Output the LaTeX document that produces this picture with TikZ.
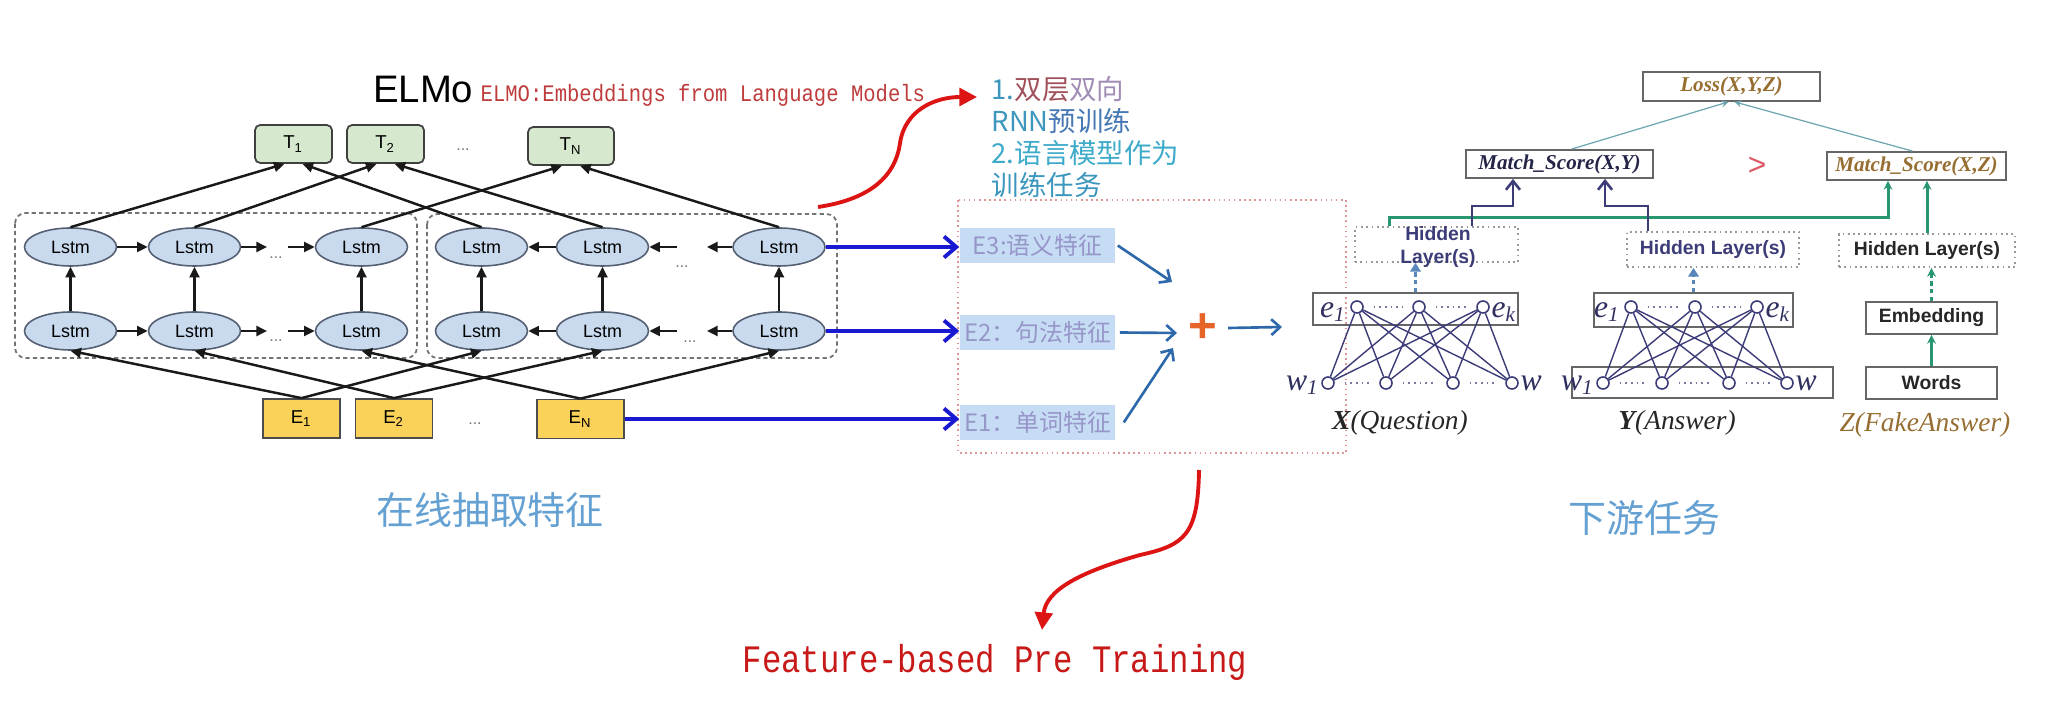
\documentclass[tikz,border=0pt]{standalone}
\usepackage{fontspec}
\newfontfamily\arialf{Liberation Sans}
\newfontfamily\serff{Liberation Serif}
\newfontfamily\monof{Liberation Mono}
\newfontfamily\cjk{Noto Sans CJK SC}
\usetikzlibrary{arrows.meta,positioning,shapes.geometric}

\definecolor{lstmblue}{RGB}{201,218,238}
\definecolor{lstmedge}{RGB}{85,95,115}
\definecolor{tgreen}{RGB}{214,232,206}
\definecolor{eyellow}{RGB}{250,210,90}
\definecolor{subred}{RGB}{190,60,60}
\definecolor{titlered}{RGB}{200,25,25}
\definecolor{curvered}{RGB}{220,20,20}
\definecolor{deepblue}{RGB}{25,25,210}
\definecolor{featblue}{RGB}{198,220,244}
\definecolor{feattext}{RGB}{150,150,200}
\definecolor{steel}{RGB}{45,105,170}
\definecolor{plusorange}{RGB}{230,100,40}
\definecolor{navy}{RGB}{60,60,120}
\definecolor{tealgreen}{RGB}{40,150,110}
\definecolor{olive}{RGB}{150,110,50}
\definecolor{lossline}{RGB}{110,165,175}
\definecolor{gtred}{RGB}{220,90,100}
\definecolor{captblue}{RGB}{100,160,210}
\definecolor{mixedge}{RGB}{220,150,150}
\definecolor{noteA}{RGB}{60,150,190}
\definecolor{noteB}{RGB}{160,80,90}
\definecolor{noteC}{RGB}{160,140,180}
\definecolor{noteD}{RGB}{70,120,180}
\definecolor{noteE}{RGB}{60,170,200}

\tikzset{
    lstm/.style={ellipse, draw=lstmedge, fill=lstmblue, line width=0.45pt,
        minimum width=0.92cm, minimum height=0.38cm, inner sep=0pt,
        font=\arialf\fontsize{5.1}{6}\selectfont},
    tbox/.style={rectangle, rounded corners=1.5pt, draw=black!75, fill=tgreen,
        line width=0.5pt, minimum width=0.77cm, minimum height=0.38cm, inner sep=0pt,
        font=\arialf\fontsize{5.3}{6}\selectfont},
    ebox/.style={rectangle, draw=black!70, fill=eyellow, line width=0.5pt,
        minimum width=0.77cm, minimum height=0.39cm, inner sep=0pt,
        font=\arialf\fontsize{5.3}{6}\selectfont},
    gapdots/.style={inner sep=0pt, text=black!55, font=\arialf\fontsize{4.5}{5}\selectfont},
    elmarrow/.style={-{Triangle[length=3pt,width=2.8pt]}, line width=0.7pt, black!90},
    dashbox/.style={draw=black!55, line width=0.5pt, dash pattern=on 1.2pt off 0.9pt,
        rounded corners=3pt},
    bluearrow/.style={-{Straight Barb[length=3.5pt,width=6pt]}, deepblue, line width=1.1pt},
    redcurve/.style={-{Triangle[length=5pt,width=5pt]}, curvered, line width=1.1pt},
    featbox/.style={rectangle, fill=featblue, minimum width=1.55cm, minimum height=0.34cm,
        inner sep=0pt, text=feattext, font=\cjk\fontsize{6.8}{8}\selectfont},
    sumarrow/.style={-{Straight Barb[length=2.5pt,width=4.5pt]}, steel, line width=0.75pt},
    plainbox/.style={rectangle, draw=black!60, line width=0.5pt, inner sep=0pt},
    hidbox/.style={rectangle, draw=black!40, densely dotted, line width=0.5pt, inner sep=0pt},
    hidtext/.style={text=navy, font=\arialf\bfseries\fontsize{5.5}{6.5}\selectfont},
    boxtext/.style={font=\arialf\bfseries\fontsize{5.5}{6.5}\selectfont, text=black!85},
    scoretext/.style={font=\serff\bfseries\itshape\fontsize{6}{7}\selectfont},
    unit/.style={circle, draw=navy, fill=white, line width=0.45pt, minimum size=0.12cm,
        inner sep=0pt},
    unitlbl/.style={inner sep=0pt, text=navy!80!black, font=\serff\itshape\fontsize{9}{10}\selectfont},
    weight/.style={navy, line width=0.4pt},
    unitdots/.style={navy!70, line width=0.7pt, dash pattern=on 0.5pt off 1.1pt,
        shorten <=2.8pt, shorten >=2.8pt},
    capt/.style={font=\serff\itshape\fontsize{7.8}{9}\selectfont, text=black!85},
    losslink/.style={-{Stealth[length=2pt,width=2pt]}, lossline, line width=0.35pt},
    greenlink/.style={-{Stealth[length=2.5pt,width=2.5pt]}, tealgreen, line width=0.85pt},
    navylink/.style={-{Straight Barb[length=2.5pt,width=4pt]}, navy, line width=0.75pt},
    bluedash/.style={-{Triangle[length=2.5pt,width=3pt]}, steel!80, line width=0.8pt,
        dash pattern=on 1.2pt off 1pt},
}

\begin{document}
\begin{tikzpicture}[x=0.01cm, y=-0.01cm]
    \useasboundingbox (0,0) rectangle (2058,722);

    % Title
    \node[anchor=base east, inner sep=0pt, font=\arialf\fontsize{10.9}{12}\selectfont] (elmo) at (474,103) {ELMo};
    \node[anchor=base west, inner sep=0pt, text=subred] (elmofull) at (480,102)
        {\scalebox{1}[1.15]{\monof\fontsize{5.85}{7}\selectfont ELMO:Embeddings from Language Models}};

    % Two dashed groups
    \draw[dashbox] (15,213) rectangle (417,358);
    \draw[dashbox] (427,214) rectangle (837,358);

    % Lstm layers (forward / backward)
    \foreach \n/\x in {1/70.5, 2/194.5, 3/361.5} {
        \node[lstm] (uf\n) at (\x,247) {Lstm};
        \node[lstm] (lf\n) at (\x,331) {Lstm};
    }
    \foreach \n/\x in {1/481.5, 2/602.5, 3/779} {
        \node[lstm] (ub\n) at (\x,247) {Lstm};
        \node[lstm] (lb\n) at (\x,331) {Lstm};
    }

    % Outputs and inputs
    \node[tbox] (t1) at (293.5,144) {T\textsubscript{1}};
    \node[tbox] (t2) at (385.5,144) {T\textsubscript{2}};
    \node[tbox, minimum width=0.86cm] (tn) at (571,146) {T\textsubscript{N}};
    \node[ebox] (e1) at (301.5,418.5) {E\textsubscript{1}};
    \node[ebox] (e2) at (394,418.5) {E\textsubscript{2}};
    \node[ebox, minimum width=0.87cm] (en) at (580.5,419) {E\textsubscript{N}};

    \node[gapdots] (tdots) at (463,150) {...};
    \node[gapdots] (edots) at (475,424) {...};
    \node[gapdots] (ufdots) at (276,258) {...};
    \node[gapdots] (lfdots) at (276,341) {...};
    \node[gapdots] (ubdots) at (682,267) {...};
    \node[gapdots] (lbdots) at (690,342) {...};

    % Recurrent links
    \coordinate (ufa) at (267,247); \coordinate (ufb) at (288,247);
    \coordinate (lfa) at (267,331); \coordinate (lfb) at (288,331);
    \coordinate (uba) at (677,247); \coordinate (ubb) at (707,247);
    \coordinate (lba) at (677,331); \coordinate (lbb) at (707,331);
    \draw[elmarrow] (uf1) -- (uf2);
    \draw[elmarrow] (uf2) -- (ufa);
    \draw[elmarrow] (ufb) -- (uf3);
    \draw[elmarrow] (lf1) -- (lf2);
    \draw[elmarrow] (lf2) -- (lfa);
    \draw[elmarrow] (lfb) -- (lf3);
    \draw[elmarrow] (ub2) -- (ub1);
    \draw[elmarrow] (uba) -- (ub2);
    \draw[elmarrow] (ub3) -- (ubb);
    \draw[elmarrow] (lb2) -- (lb1);
    \draw[elmarrow] (lba) -- (lb2);
    \draw[elmarrow] (lb3) -- (lbb);

    % Layer to layer, inputs and outputs
    \foreach \n/\t/\e in {1/t1/e1, 2/t2/e2, 3/tn/en} {
        \draw[elmarrow] (lf\n) -- (uf\n);
        \draw[elmarrow] (lb\n) -- (ub\n);
        \draw[elmarrow] (uf\n.north) -- ([xshift=-0.09cm]\t.south);
        \draw[elmarrow] (ub\n.north) -- ([xshift=0.09cm]\t.south);
        \draw[elmarrow] (\e.north) -- (lf\n.south);
        \draw[elmarrow] (\e.north) -- (lb\n.south);
    }

    % Notes
    \coordinate (rcs) at (818,207);
    \coordinate (rce) at (977,97);
    \draw[redcurve] (rcs) .. controls (865,200) and (895,180) .. (900,143) .. controls (905,110) and (935,97) .. (rce);
    \node[anchor=north west, align=left, inner sep=0pt, font=\cjk\fontsize{7.8}{9.1}\selectfont] (notes) at (991,76)
        {{\color{noteA}1.}{\color{noteB}双层}{\color{noteC}双向}\\
         {\color{noteA}RNN}{\color{noteD}预训练}\\
         {\color{noteE}2.语言模型作为}\\
         {\color{noteA}训练任务}};

    % Feature mixing
    \draw[mixedge, densely dotted, line width=0.45pt] (958,200) rectangle (1346,453);
    \node[featbox] (e3f) at (1037.5,245.5) {E3:语义特征};
    \node[featbox] (e2f) at (1037.5,332.5) {E2：句法特征};
    \node[featbox] (e1f) at (1037.5,422.5) {E1：单词特征};
    \draw[bluearrow] (ub3.east) -- (ub3.east -| e3f.west);
    \draw[bluearrow] (lb3.east) -- (lb3.east -| e2f.west);
    \draw[bluearrow] (en.east) -- (en.east -| e1f.west);

    \node[inner sep=0pt, text=plusorange, font=\arialf\bfseries\fontsize{14}{14}\selectfont] (plus) at (1203,328) {+};
    \coordinate (s3) at (1172,282);
    \coordinate (s2) at (1177,333);
    \coordinate (s1) at (1173,348);
    \coordinate (sout) at (1282,327);
    \draw[sumarrow] ([xshift=0.02cm]e3f.east) -- (s3);
    \draw[sumarrow] ([xshift=0.04cm]e2f.east) -- (s2);
    \draw[sumarrow] ([xshift=0.08cm]e1f.east) -- (s1);
    \draw[sumarrow] ([xshift=0.1cm]plus.east) -- (sout);

    % Downstream task
    \node[plainbox, minimum width=1.77cm, minimum height=0.29cm, scoretext, text=olive] (loss) at (1731.5,86.5) {Loss(X,Y,Z)};
    \node[plainbox, minimum width=1.87cm, minimum height=0.28cm, scoretext, text=navy!60!black] (ms1) at (1559.5,164) {Match\_Score(X,Y)};
    \node[plainbox, minimum width=1.79cm, minimum height=0.28cm, scoretext, text=olive] (ms2) at (1916.5,166) {Match\_Score(X,Z)};
    \node[inner sep=0pt, text=gtred, font=\arialf\fontsize{9}{10}\selectfont] (gt) at (1757,166) {>};

    \node[hidbox, minimum width=1.63cm, minimum height=0.35cm] (hx) at (1436.5,244.5) {};
    \node[hidtext, align=center, inner sep=0pt] (hxt) at (1438,247) {Hidden\\Layer(s)};
    \node[hidbox, hidtext, minimum width=1.72cm, minimum height=0.35cm] (hy) at (1713,249.5) {Hidden Layer(s)};
    \node[hidbox, boxtext, minimum width=1.76cm, minimum height=0.33cm] (hz) at (1927,250.5) {Hidden Layer(s)};

    \node[plainbox, minimum width=2.05cm, minimum height=0.32cm] (ex) at (1415.5,309) {};
    \node[plainbox, minimum width=1.99cm, minimum height=0.34cm] (ey) at (1693.5,310) {};
    \node[plainbox, minimum width=2.61cm, minimum height=0.31cm] (wy) at (1702.5,382.5) {};
    \node[plainbox, boxtext, minimum width=1.31cm, minimum height=0.32cm] (emb) at (1931.5,318) {Embedding};
    \node[plainbox, boxtext, minimum width=1.31cm, minimum height=0.32cm] (words) at (1931.5,383) {Words};

    % Units of X and Y
    \foreach \s/\a/\b/\c in {x/1357/1419/1483, y/1631/1695/1757} {
        \node[unit] (\s e1) at (\a,307) {};
        \node[unit] (\s e2) at (\b,307) {};
        \node[unit] (\s e3) at (\c,307) {};
    }
    \foreach \s/\a/\b/\c/\d in {x/1328/1386/1453/1512, y/1603/1662/1729/1787} {
        \node[unit] (\s w1) at (\a,383) {};
        \node[unit] (\s w2) at (\b,383) {};
        \node[unit] (\s w3) at (\c,383) {};
        \node[unit] (\s w4) at (\d,383) {};
    }
    \foreach \s in {x,y} {
        \foreach \i in {1,...,4}
            \foreach \j in {1,2,3}
                \draw[weight] (\s w\i) -- (\s e\j);
        \draw[unitdots] (\s e1) -- (\s e2);
        \draw[unitdots] (\s e2) -- (\s e3);
        \draw[unitdots] (\s w1) -- (\s w2);
        \draw[unitdots] (\s w2) -- (\s w3);
        \draw[unitdots] (\s w3) -- (\s w4);
        \node[unitlbl, left=0.03cm of \s e1, yshift=-0.05cm] (\s e1l) {e\textsubscript{1}};
        \node[unitlbl, right=0.01cm of \s e3, yshift=-0.05cm] (\s e3l) {e\textsubscript{k}};
        \node[unitlbl, left=0.01cm of \s w1, yshift=-0.02cm] (\s w1l) {w\textsubscript{1}};
        \node[unitlbl, right=0.01cm of \s w4] (\s w4l) {w};
    }

    % Score links
    \draw[losslink] ([xshift=0.12cm]ms1.north) -- ([xshift=-0.03cm]loss.south);
    \draw[losslink] ([xshift=-0.04cm]ms2.north) -- ([xshift=0.03cm]loss.south);
    \draw[greenlink] ([xshift=0.35cm]hx.north west) -- ++(0,-9) -| ([xshift=-0.285cm]ms2.south);
    \draw[greenlink] (hz.north) -- (hz.north |- ms2.south);
    \draw[greenlink] (words.north) -- (emb.south);
    \draw[greenlink, dash pattern=on 1.2pt off 1pt] (emb.north) -- (emb.north |- hz.south);
    \draw[navylink] ([xshift=0.355cm]hx.north) -- ++(0,-20) -| ([xshift=-0.465cm]ms1.south);
    \draw[navylink] ([xshift=-0.65cm]hy.north) -- ++(0,-25) -| ([xshift=0.455cm]ms1.south);
    \draw[bluedash] (ex.north) -- (ex.north |- hx.south);
    \draw[bluedash] (ey.north) -- (ey.north |- hy.south);

    \node[capt] (xcap) at (1400,423) {\textbf{X}(Question)};
    \node[capt] (ycap) at (1677,423) {\textbf{Y}(Answer)};
    \node[capt, text=olive] (zcap) at (1925,425) {Z(FakeAnswer)};

    % Captions
    \node[inner sep=0pt, text=captblue, font=\cjk\fontsize{10.8}{12}\selectfont] (online) at (490,510) {在线抽取特征};
    \node[inner sep=0pt, text=captblue, font=\cjk\fontsize{10.8}{12}\selectfont] (down) at (1644,518) {下游任务};
    \node[inner sep=0pt, text=titlered] (fbpt) at (995,662)
        {\scalebox{1}[1.2]{\monof\fontsize{9.2}{11}\selectfont Feature-based Pre Training}};
    \coordinate (rbs) at (1199,470);
    \coordinate (rbe) at (1042,630);
    \draw[redcurve] (rbs) .. controls (1198,535) and (1185,545) .. (1140,555) .. controls (1080,572) and (1046,590) .. (rbe);
\end{tikzpicture}
\end{document}
